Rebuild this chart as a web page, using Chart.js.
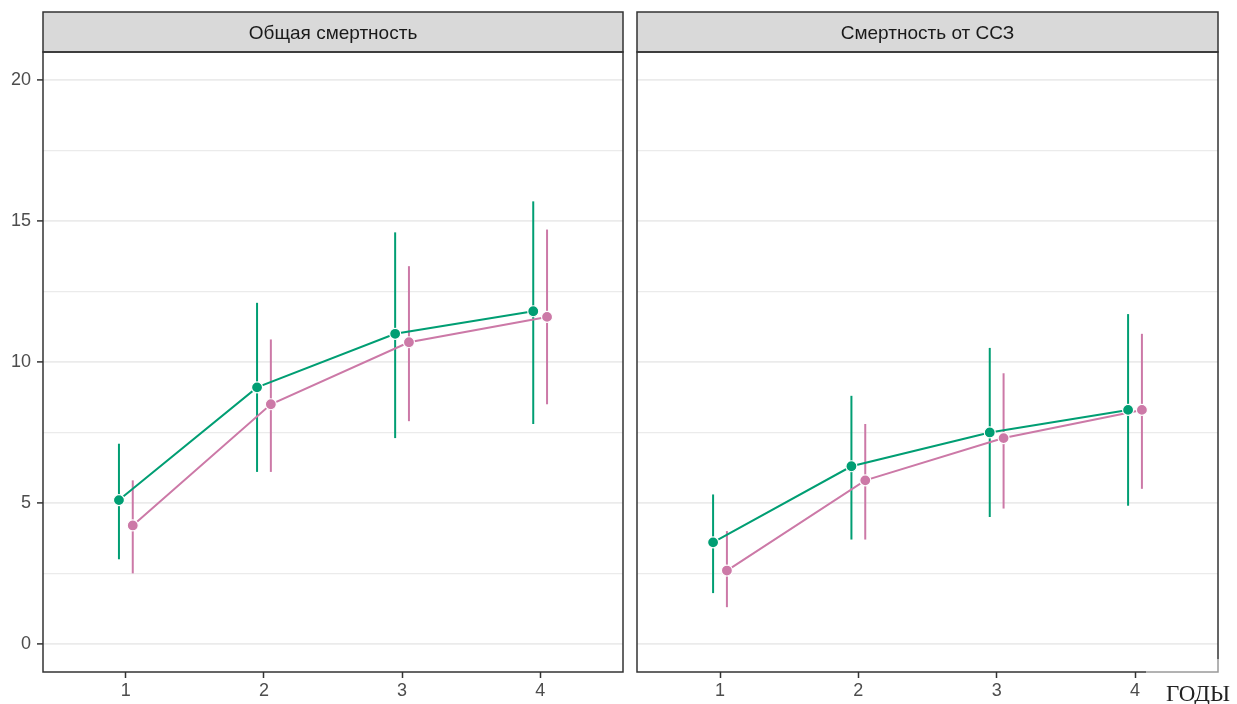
<!DOCTYPE html>
<html>
<head>
<meta charset="utf-8">
<script src="https://cdn.jsdelivr.net/npm/chart.js@4"></script>
<style>
  html, body { margin: 0; padding: 0; background: #fff; }
  #wrap { position: relative; width: 1237px; height: 704px; overflow: hidden; }
  #left-box { position: absolute; left: 0; top: 0; width: 630px; height: 704px; }
  #right-box { position: absolute; left: 630px; top: 0; width: 607px; height: 704px; }
  #years-label {
    position: absolute; left: 1146px; top: 659px; width: 91px; height: 45px;
    background: rgba(255, 255, 255, 0.5);
  }
  #years-label span {
    display: block; margin: 23px 0 0 20px;
    font-family: "Liberation Serif", serif; font-size: 23px; line-height: 23px; color: #222;
  }
</style>
</head>
<body>
<div id="wrap">
  <div id="left-box"><canvas id="left-chart"></canvas></div>
  <div id="right-box"><canvas id="right-chart"></canvas></div>
  <div id="years-label"><span>ГОДЫ</span></div>
</div>
<script>
// data
const years = [1, 2, 3, 4];
const yTicks = [0, 2.5, 5, 7.5, 10, 12.5, 15, 17.5, 20];

const totalGreen = [5.1, 9.1, 11.0, 11.8];
const totalGreenLow = [3.0, 6.1, 7.3, 7.8];
const totalGreenHigh = [7.1, 12.1, 14.6, 15.7];
const totalPink = [4.2, 8.5, 10.7, 11.6];
const totalPinkLow = [2.5, 6.1, 7.9, 8.5];
const totalPinkHigh = [5.8, 10.8, 13.4, 14.7];

const cvdGreen = [3.6, 6.3, 7.5, 8.3];
const cvdGreenLow = [1.8, 3.7, 4.5, 4.9];
const cvdGreenHigh = [5.3, 8.8, 10.5, 11.7];
const cvdPink = [2.6, 5.8, 7.3, 8.3];
const cvdPinkLow = [1.3, 3.7, 4.8, 5.5];
const cvdPinkHigh = [4.0, 7.8, 9.6, 11.0];

const GREEN = '#009E73';
const PINK = '#CC79A7';
const DODGE = 0.05;

Chart.defaults.font.family = '"Liberation Sans", Arial, sans-serif';
Chart.defaults.animation = false;

// grey strip on top of each panel plus the dark panel frame
const panelFrame = {
    id: 'panelFrame',
    afterDraw(chart, args, opts) {
        const ctx = chart.ctx;
        const a = chart.chartArea;
        ctx.save();
        ctx.fillStyle = '#D9D9D9';
        ctx.fillRect(a.left, 12, a.right - a.left, a.top - 12);
        ctx.strokeStyle = '#333333';
        ctx.lineWidth = 1.5;
        ctx.strokeRect(a.left, 12, a.right - a.left, a.top - 12);
        ctx.strokeRect(a.left, a.top, a.right - a.left, a.bottom - a.top);
        ctx.fillStyle = '#1A1A1A';
        ctx.font = '19px "Liberation Sans", Arial, sans-serif';
        ctx.textAlign = 'center';
        ctx.textBaseline = 'middle';
        ctx.fillText(opts.title, (a.left + a.right) / 2, (12 + a.top) / 2 + 2);
        ctx.restore();
    }
};

function errorBars(lows, highs, color, shift) {
    return years.map((yr, i) => ({
        type: 'line',
        data: [{ x: yr + shift, y: lows[i] }, { x: yr + shift, y: highs[i] }],
        borderColor: color,
        borderWidth: 2,
        pointRadius: 0,
        order: 3
    }));
}

function meanLine(values, color, shift) {
    return {
        type: 'line',
        data: years.map((yr, i) => ({ x: yr + shift, y: values[i] })),
        borderColor: color,
        borderWidth: 2,
        pointRadius: 5.5,
        pointBackgroundColor: color,
        pointBorderColor: '#ffffff',
        pointBorderWidth: 1.2,
        order: shift < 0 ? 1 : 2
    };
}

function buildChart(canvasId, title, g, gLow, gHigh, p, pLow, pHigh, showY) {
    const datasets = []
        .concat(errorBars(gLow, gHigh, GREEN, -DODGE))
        .concat(errorBars(pLow, pHigh, PINK, DODGE))
        .concat([meanLine(g, GREEN, -DODGE), meanLine(p, PINK, DODGE)]);

    return new Chart(document.getElementById(canvasId), {
        type: 'line',
        data: { datasets: datasets },
        plugins: [panelFrame],
        options: {
            responsive: true,
            maintainAspectRatio: false,
            layout: {
                padding: showY ? { top: 52, right: 7, bottom: 0, left: 0 }
                               : { top: 52, right: 19, bottom: 0, left: 7 }
            },
            plugins: {
                legend: { display: false },
                tooltip: { enabled: false },
                panelFrame: { title: title }
            },
            scales: {
                x: {
                    type: 'linear',
                    min: 0.4,
                    max: 4.6,
                    afterBuildTicks: scale => { scale.ticks = years.map(v => ({ value: v })); },
                    afterFit: scale => { scale.height = 32; },
                    grid: {
                        drawOnChartArea: false,
                        tickLength: 6,
                        tickWidth: 1.5,
                        tickColor: '#333333'
                    },
                    border: { display: false },
                    ticks: {
                        color: '#4D4D4D',
                        font: { size: 18 },
                        padding: 2,
                        maxRotation: 0
                    }
                },
                y: {
                    type: 'linear',
                    min: -1,
                    max: 21,
                    afterBuildTicks: scale => { scale.ticks = yTicks.map(v => ({ value: v })); },
                    afterFit: scale => { scale.width = showY ? 43 : 0; },
                    grid: {
                        color: '#EBEBEB',
                        lineWidth: c => (c.tick && c.tick.value % 5 === 0) ? 1.8 : 1.2,
                        drawTicks: showY,
                        tickLength: 6,
                        tickWidth: 1.5,
                        tickColor: c => (c.tick && c.tick.value % 5 === 0) ? '#333333' : 'rgba(0,0,0,0)'
                    },
                    border: { display: false },
                    ticks: {
                        display: showY,
                        color: '#4D4D4D',
                        font: { size: 18 },
                        padding: 6,
                        callback: v => (v % 5 === 0 ? String(v) : '')
                    }
                }
            }
        }
    });
}

buildChart('left-chart', 'Общая смертность',
    totalGreen, totalGreenLow, totalGreenHigh, totalPink, totalPinkLow, totalPinkHigh, true);
buildChart('right-chart', 'Смертность от ССЗ',
    cvdGreen, cvdGreenLow, cvdGreenHigh, cvdPink, cvdPinkLow, cvdPinkHigh, false);
</script>
</body>
</html>
